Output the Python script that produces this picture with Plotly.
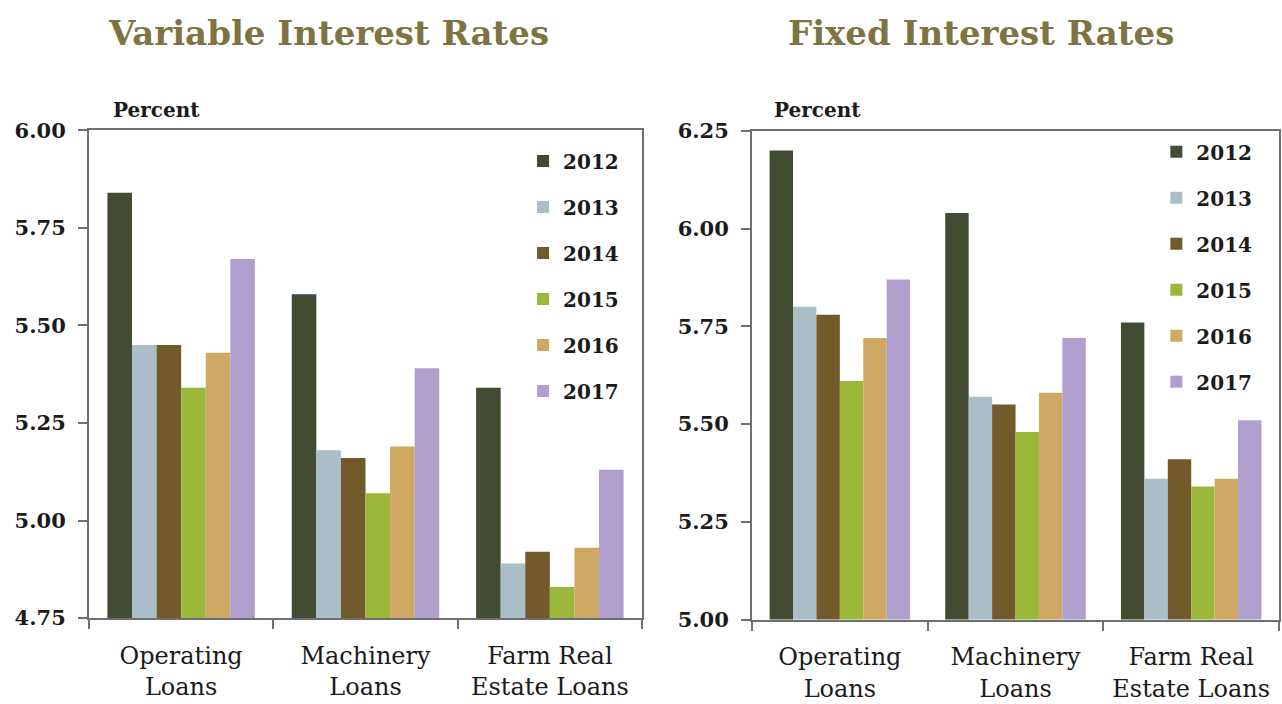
import plotly.graph_objects as go

# Loan categories (two-line axis labels)
categories = ["Operating<br>Loans", "Machinery<br>Loans", "Farm Real<br>Estate Loans"]
years = ["2012", "2013", "2014", "2015", "2016", "2017"]

# Variable interest rates, percent, by year (Operating, Machinery, Farm Real Estate)
variable_2012 = [5.84, 5.58, 5.34]
variable_2013 = [5.45, 5.18, 4.89]
variable_2014 = [5.45, 5.16, 4.92]
variable_2015 = [5.34, 5.07, 4.83]
variable_2016 = [5.43, 5.19, 4.93]
variable_2017 = [5.67, 5.39, 5.13]

# Fixed interest rates, percent, by year
fixed_2012 = [6.20, 6.04, 5.76]
fixed_2013 = [5.80, 5.57, 5.36]
fixed_2014 = [5.78, 5.55, 5.41]
fixed_2015 = [5.61, 5.48, 5.34]
fixed_2016 = [5.72, 5.58, 5.36]
fixed_2017 = [5.87, 5.72, 5.51]

variable_ticks = [4.75, 5.00, 5.25, 5.50, 5.75, 6.00]
fixed_ticks = [5.00, 5.25, 5.50, 5.75, 6.00, 6.25]

variable_series = [variable_2012, variable_2013, variable_2014,
                   variable_2015, variable_2016, variable_2017]
fixed_series = [fixed_2012, fixed_2013, fixed_2014,
                fixed_2015, fixed_2016, fixed_2017]

colors = ["#414c33", "#a9bec7", "#725a2a", "#9cb83b", "#cfa864", "#b09ecc"]

SERIF = "DejaVu Serif"
TEXT = "#1b1b1b"
AXIS = "#6f6f6f"
TITLE = "#7f7342"

fig = go.Figure()

for year, vals, col in zip(years, variable_series, colors):
    fig.add_trace(go.Bar(
        x=categories, y=vals, name=year, marker=dict(color=col, line=dict(width=0)),
        xaxis="x", yaxis="y", legend="legend", legendgroup="v" + year,
    ))

for year, vals, col in zip(years, fixed_series, colors):
    fig.add_trace(go.Bar(
        x=categories, y=vals, name=year, marker=dict(color=col, line=dict(width=0)),
        xaxis="x2", yaxis="y2", legend="legend2", legendgroup="f" + year,
    ))

axis_common = dict(
    showline=True, linecolor=AXIS, linewidth=2, mirror=True,
    ticks="outside", ticklen=9, tickwidth=2, tickcolor=AXIS,
    showgrid=False, zeroline=False, automargin=False,
)

x_common = dict(axis_common, tickson="boundaries", ticklabelstandoff=15,
                tickfont=dict(family=SERIF, size=24, color=TEXT))
y_common = dict(axis_common, ticklabelstandoff=8,
                tickfont=dict(family=SERIF, size=21, color=TEXT, weight="bold"))

legend_common = dict(
    font=dict(family=SERIF, size=20, color=TEXT, weight="bold"),
    bgcolor="rgba(0,0,0,0)", borderwidth=0,
    tracegroupgap=17, itemwidth=30, traceorder="grouped",
    xanchor="left", yanchor="top",
)

fig.update_layout(
    width=1282, height=704,
    margin=dict(l=0, r=0, t=0, b=0),
    paper_bgcolor="white", plot_bgcolor="white",
    barmode="group", bargap=0.2, bargroupgap=0,
    xaxis=dict(x_common, domain=[0.0694, 0.5008], anchor="y"),
    yaxis=dict(y_common, domain=[0.122, 0.815], range=[4.75, 6.00],
               tickvals=variable_ticks, ticktext=[f"{v:.2f}" for v in variable_ticks],
               anchor="x"),
    xaxis2=dict(x_common, domain=[0.5866, 0.9977], anchor="y2"),
    yaxis2=dict(y_common, domain=[0.120, 0.814], range=[5.00, 6.25],
                tickvals=fixed_ticks, ticktext=[f"{v:.2f}" for v in fixed_ticks],
                anchor="x2"),
    legend=dict(legend_common, x=0.408, y=0.799),
    legend2=dict(legend_common, x=0.902, y=0.812),
    showlegend=True,
    annotations=[
        dict(text="<b>Variable Interest Rates</b>", x=0.256, y=0.953,
             xref="paper", yref="paper", xanchor="center", yanchor="middle",
             showarrow=False, font=dict(family=SERIF, size=34, color=TITLE)),
        dict(text="<b>Fixed Interest Rates</b>", x=0.765, y=0.953,
             xref="paper", yref="paper", xanchor="center", yanchor="middle",
             showarrow=False, font=dict(family=SERIF, size=34, color=TITLE)),
        dict(text="<b>Percent</b>", x=0.122, y=0.844,
             xref="paper", yref="paper", xanchor="center", yanchor="middle",
             showarrow=False, font=dict(family=SERIF, size=20, color=TEXT)),
        dict(text="<b>Percent</b>", x=0.638, y=0.844,
             xref="paper", yref="paper", xanchor="center", yanchor="middle",
             showarrow=False, font=dict(family=SERIF, size=20, color=TEXT)),
    ],
)

fig.write_html("out.html")
